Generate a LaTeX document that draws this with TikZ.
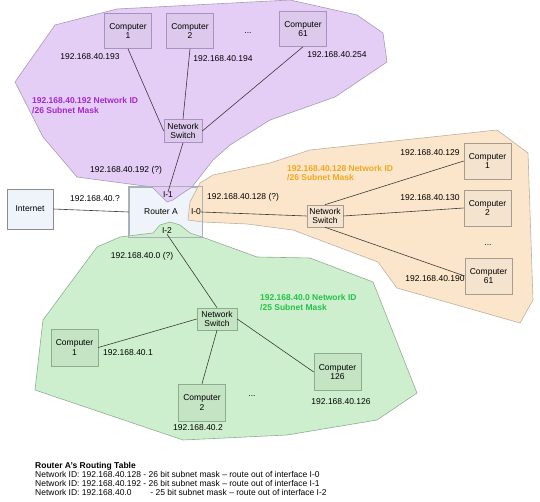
\documentclass[tikz,border=0pt]{standalone}
\usepackage{fontspec}
\setmainfont{Liberation Sans}
\newcommand{\dgfont}{\fontsize{8.5}{9.2}\selectfont}
\definecolor{pfill}{HTML}{E4CEF6}
\definecolor{pedge}{HTML}{A89AB8}
\definecolor{pbox}{HTML}{DCC9EC}
\definecolor{pboxedge}{HTML}{A892C0}
\definecolor{ofill}{HTML}{FCE6CB}
\definecolor{oedge}{HTML}{C0B0A0}
\definecolor{obox}{HTML}{F3E3CF}
\definecolor{oboxedge}{HTML}{A89C90}
\definecolor{gfill}{HTML}{CDEFCD}
\definecolor{gedge}{HTML}{90B090}
\definecolor{gbox}{HTML}{C4E4C4}
\definecolor{gboxedge}{HTML}{8CAE8C}
\definecolor{rfill}{HTML}{EEF4FA}
\definecolor{redge}{HTML}{A8B0B8}
\definecolor{ptext}{HTML}{A428D0}
\definecolor{otext}{HTML}{F2A81E}
\definecolor{gtext}{HTML}{26C24A}
\definecolor{wire}{HTML}{3A3A3A}
\tikzset{
  lbl/.style={font=\dgfont, inner sep=0pt},
  box/.style={draw, line width=0.6pt, inner sep=0pt, align=center, font=\dgfont},
  pcP/.style={box, fill=pbox, draw=pboxedge, minimum width=47pt, minimum height=35pt},
  pcO/.style={box, fill=obox, draw=oboxedge, minimum width=47pt, minimum height=36pt},
  pcG/.style={box, fill=gbox, draw=gboxedge, minimum width=47pt, minimum height=37pt},
  swP/.style={box, fill=pbox, draw=pboxedge, minimum width=38pt, minimum height=23pt},
  swO/.style={box, fill=obox, draw=oboxedge, minimum width=36pt, minimum height=22pt},
  swG/.style={box, fill=gbox, draw=gboxedge, minimum width=40pt, minimum height=22pt},
  wireline/.style={draw=wire, line width=0.6pt},
  region/.style={line width=0.6pt},
  title/.style={font=\dgfont\bfseries, align=left, inner sep=0pt, anchor=west}
}
\begin{document}
\begin{tikzpicture}[x=1pt, y=-1pt]
\useasboundingbox (0,0) rectangle (540,502);
% router box background
\node[box, fill=rfill, draw=redge, minimum width=73pt, minimum height=50pt] (router) at (165.5,212) {};
% regions
\filldraw[region, fill=pfill, draw=pedge] (55,25) -- (117,9) -- (290,0) -- (357,15) -- (383,33) -- (387,62) -- (335,97) -- (270,120) -- (230,145) -- (213,160) -- (192,187) -- (180,195) -- (173,200) -- (167,202) -- (160,195) -- (152,187) -- (77,177) -- (43,137) -- (15,82) -- cycle;
\filldraw[region, fill=ofill, draw=oedge] (188,220) -- (190,202) -- (200,183) -- (213,175) -- (270,163) -- (310,150) -- (497,130) -- (528,153) -- (533,300) -- (520,323) -- (397,288) -- (378,262) -- (293,230) -- (247,224) -- (203,222) -- cycle;
\filldraw[region, fill=gfill, draw=gedge] (97,247) -- (120,237) -- (153,233) -- (160,225) -- (170,222) -- (180,225) -- (190,233) -- (202,237) -- (257,257) -- (310,258) -- (373,282) -- (417,393) -- (377,420) -- (287,435) -- (183,440) -- (35,390) -- (43,320) -- cycle;
\draw[redge, line width=0.6pt] (router.north west) rectangle (router.south east);
\node[lbl] at (161,212) {Router A};
\node[lbl] (i1) at (168,195) {I-1};
\node[lbl] (i0) at (196,212) {I-0};
\node[lbl] (i2) at (167,231) {I-2};
% internet
\node[box, fill=rfill, draw=black!45, minimum width=46pt, minimum height=40pt] (inet) at (30,209) {Internet};
\node[lbl] at (95,199) {192.168.40.?};
% purple network
\node[pcP] (p1) at (128,31) {Computer\\1};
\node[pcP] (p2) at (190,31) {Computer\\2};
\node[pcP] (p61) at (303,29) {Computer\\61};
\node[lbl] at (248,33) {...};
\node[swP] (psw) at (183,131) {Network\\Switch};
\node[lbl] at (90,57) {192.168.40.193};
\node[lbl] at (223,59) {192.168.40.194};
\node[lbl] at (337,55) {192.168.40.254};
\node[lbl] at (126,170) {192.168.40.192 (?)};
\node[title, text=ptext] at (32,105.5) {192.168.40.192 Network ID\\/26 Subnet Mask};
% orange network
\node[swO] (osw) at (325,216) {Network\\Switch};
\node[pcO] (o1) at (487.5,161) {Computer\\1};
\node[pcO] (o2) at (487.5,208) {Computer\\2};
\node[pcO] (o61) at (488.5,276) {Computer\\61};
\node[lbl] at (488,245) {...};
\node[lbl] at (430,153) {192.168.40.129};
\node[lbl] at (430,198) {192.168.40.130};
\node[lbl] at (435,279) {192.168.40.190};
\node[lbl] at (243,197) {192.168.40.128 (?)};
\node[title, text=otext] at (287,173) {192.168.40.128 Network ID\\/26 Subnet Mask};
% green network
\node[swG] (gsw) at (217,319) {Network\\Switch};
\node[pcG] (g1) at (74.5,347.5) {Computer\\1};
\node[pcG] (g2) at (202,402.5) {Computer\\2};
\node[pcG] (g126) at (337.5,372) {Computer\\126};
\node[lbl] at (252,396) {...};
\node[lbl] at (142,256) {192.168.40.0 (?)};
\node[lbl] at (128,353) {192.168.40.1};
\node[lbl] at (198,428) {192.168.40.2};
\node[lbl] at (341,402) {192.168.40.126};
\node[title, text=gtext] at (260,302.5) {192.168.40.0 Network ID\\/25 Subnet Mask};
% connectors
\draw[wireline] (inet.east) -- (router.west);
\draw[wireline] (p1.south) -- (psw.west);
\draw[wireline] (p2.south) -- (psw.north);
\draw[wireline] (p61.south) -- (psw.east);
\draw[wireline] (psw.south) -- (i1.north);
\draw[wireline] (i0.east) -- (osw.west);
\draw[wireline] (osw.north) -- (o1.west);
\draw[wireline] (osw.east) -- (o2.west);
\draw[wireline] (osw.south) -- (o61.west);
\draw[wireline] (i2.south) -- (gsw.north);
\draw[wireline] (gsw.west) -- (g1.east);
\draw[wireline] (gsw.south) -- (g2.north);
\draw[wireline] (gsw.east) -- (g126.west);
% routing table
\node[font=\dgfont, align=left, inner sep=0pt, anchor=north west] (table) at (35,462) {\textbf{Router A's Routing Table}\\
Network ID: 192.168.40.128 - 26 bit subnet mask -- route out of interface I-0\\
Network ID: 192.168.40.192 - 26 bit subnet mask -- route out of interface I-1\\
Network ID: 192.168.40.0\phantom{28}\hspace{7pt} - 25 bit subnet mask -- route out of interface I-2};
\end{tikzpicture}
\end{document}
